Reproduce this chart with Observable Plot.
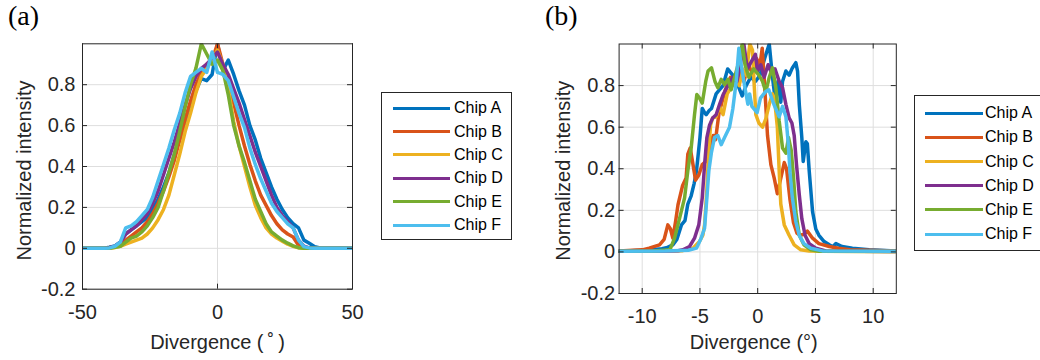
<!DOCTYPE html>
<html><head><meta charset="utf-8">
<script src="https://cdn.jsdelivr.net/npm/d3@7"></script>
<script src="https://cdn.jsdelivr.net/npm/@observablehq/plot@0.6"></script>
<style>
body{margin:0;background:#fff;}
#wrap{position:relative;width:1040px;height:360px;overflow:hidden;background:#fff;font-family:"Liberation Sans",Arial,Helvetica,sans-serif;}
.panel{position:absolute;top:0;}
.tag{position:absolute;top:0;font-family:"Liberation Serif","Times New Roman",serif;font-size:28px;line-height:32px;color:#000;}
.legend{position:absolute;border:1px solid #262626;background:#fff;box-sizing:border-box;}
.sw{position:absolute;height:3px;}
.lt{position:absolute;font-size:16px;line-height:18px;color:#000;white-space:nowrap;}
</style>
</head><body>
<div id="wrap"></div>
<script>
// ---------- shared ----------
const chips = ["Chip A","Chip B","Chip C","Chip D","Chip E","Chip F"];
const chipColors = ["#0072BD","#D95319","#EDB120","#7E2F8E","#77AC30","#4DBEEE"];

// ---------- panel (a) ----------
const aX = [-50,-46,-42,-40,-38,-36,-34,-32,-30,-28,-26,-24,-22,-20,-18,-16,-14,-12,-10,-8,-6,-4,-2,0,2,4,6,8,10,12,14,16,18,20,22,24,26,28,30,32,34,36,38,40,44,50];
const aChipA = [0,0,0,0.005,0.012,0.03,0.07,0.09,0.11,0.13,0.15,0.19,0.24,0.3,0.37,0.46,0.53,0.62,0.69,0.77,0.83,0.82,0.85,1.0,0.87,0.92,0.85,0.77,0.7,0.6,0.53,0.44,0.37,0.3,0.24,0.19,0.15,0.12,0.1,0.04,0.025,0.008,0.002,0,0,0];
const aChipB = [0,0,0,0.003,0.008,0.015,0.04,0.06,0.08,0.1,0.13,0.17,0.22,0.28,0.35,0.43,0.53,0.63,0.72,0.8,0.86,0.9,0.92,1.0,0.9,0.82,0.71,0.6,0.5,0.41,0.33,0.26,0.21,0.16,0.12,0.09,0.07,0.055,0.015,0.004,0,0,0,0,0,0];
const aChipC = [0,0,0,0,0.004,0.01,0.02,0.03,0.04,0.05,0.07,0.1,0.14,0.19,0.26,0.36,0.46,0.57,0.66,0.76,0.84,0.88,0.92,0.97,0.9,0.78,0.62,0.5,0.4,0.3,0.21,0.15,0.1,0.07,0.05,0.035,0.02,0.01,0.003,0,0,0,0,0,0,0];
const aChipD = [0,0,0,0.004,0.01,0.03,0.07,0.09,0.11,0.14,0.17,0.22,0.28,0.36,0.44,0.52,0.61,0.7,0.78,0.84,0.88,0.9,0.93,0.96,0.9,0.85,0.78,0.71,0.63,0.55,0.47,0.4,0.33,0.26,0.2,0.16,0.13,0.1,0.04,0.01,0.002,0,0,0,0,0];
const aChipE = [0,0,0,0,0.005,0.01,0.03,0.05,0.06,0.08,0.11,0.15,0.2,0.28,0.37,0.46,0.57,0.69,0.8,0.88,1.0,0.95,0.9,0.92,0.87,0.75,0.6,0.5,0.42,0.33,0.24,0.18,0.12,0.08,0.06,0.04,0.025,0.012,0.003,0,0,0,0,0,0,0];
const aChipF = [0,0,0,0.002,0.01,0.03,0.1,0.11,0.13,0.16,0.19,0.25,0.33,0.41,0.49,0.58,0.66,0.76,0.84,0.86,0.88,0.86,0.96,0.86,0.85,0.82,0.74,0.66,0.59,0.49,0.41,0.34,0.28,0.22,0.18,0.15,0.12,0.1,0.04,0.008,0.002,0,0,0,0,0];
const aXTicks = [-50,0,50];
const aYTicks = [-0.2,0,0.2,0.4,0.6,0.8];
const aXLabel = "Divergence (\u2009˚\u2009)";
const yLabel = "Normalized intensity";

// ---------- panel (b) ----------
const bChipA = [[-12,.003],[-10,.008],[-9,.012],[-8.3,.015],[-7.9,.02],[-7.35,.034],[-7,.06],[-6.6,.13],[-6.3,.15],[-6.05,.23],[-5.76,.27],[-5.5,.33],[-5.3,.39],[-5,.55],[-4.8,.69],[-4.6,.67],[-4.46,.66],[-4.2,.68],[-4,.69],[-3.6,.76],[-3.3,.78],[-3,.8],[-2.6,.88],[-2.3,.86],[-2,.84],[-1.7,.8],[-1.34,.75],[-1,.8],[-0.6,.84],[-0.2,.82],[0.2,.85],[0.6,.93],[1,1],[1.28,.84],[1.5,.74],[1.75,.82],[2,.72],[2.15,.82],[2.44,.87],[2.72,.85],[3,.885],[3.3,.91],[3.45,.87],[3.6,.71],[3.82,.55],[3.94,.435],[4.17,.53],[4.3,.52],[4.46,.39],[4.75,.194],[5.03,.11],[5.3,.08],[5.75,.05],[6.2,.034],[6.5,.025],[6.77,.04],[7.3,.026],[8.2,.018],[9.65,.01],[12,.004]];
const bChipB = [[-12,.005],[-10,.01],[-9.4,.018],[-8.5,.034],[-8.1,.06],[-7.78,.13],[-7.55,.11],[-7.35,.066],[-7.1,.15],[-6.9,.227],[-6.5,.32],[-6.2,.355],[-6.05,.47],[-5.84,.5],[-5.6,.42],[-5.38,.345],[-5.1,.37],[-4.8,.42],[-4.4,.44],[-4.09,.52],[-3.85,.56],[-3.65,.54],[-3.37,.66],[-3.1,.72],[-2.8,.78],[-2.35,.84],[-2,.8],[-1.6,.86],[-1.2,.82],[-0.8,.9],[-0.4,.85],[-0.1,.93],[0.2,.9],[0.39,.98],[0.6,.8],[0.85,.56],[1.14,.42],[1.43,.355],[1.7,.28],[2,.355],[2.3,.43],[2.5,.4],[2.8,.25],[3.1,.14],[3.4,.09],[3.7,.08],[4,.085],[4.3,.1],[4.75,.066],[5.3,.04],[6.2,.026],[7,.018],[8,.01],[12,.004]];
const bChipC = [[-12,.003],[-8,.004],[-6.5,.006],[-5.6,.018],[-5.04,.05],[-4.75,.08],[-4.6,.13],[-4.4,.3],[-4.23,.5],[-4.08,.61],[-3.9,.644],[-3.6,.65],[-3.3,.7],[-3,.66],[-2.64,.76],[-2.2,.8],[-1.9,.84],[-1.6,.8],[-1.3,.88],[-1,.85],[-0.68,1],[-0.45,.97],[-0.3,.8],[-0.16,.66],[0.1,.62],[0.42,.6],[0.7,.64],[1,.71],[1.28,.76],[1.45,.74],[1.7,.6],[1.86,.39],[2,.23],[2.3,.13],[2.72,.08],[3.16,.034],[3.73,.01],[4.46,.004],[6,.003],[12,.002]];
const bChipD = [[-12,.003],[-8,.004],[-6.9,.006],[-6.48,.01],[-5.9,.026],[-5.47,.066],[-5.1,.13],[-4.8,.26],[-4.6,.42],[-4.4,.55],[-4.17,.61],[-3.9,.644],[-3.6,.66],[-3.3,.71],[-3,.756],[-2.58,.8],[-2.15,.84],[-1.8,.82],[-1.5,.9],[-1.2,1],[-0.9,.88],[-0.6,.91],[-0.2,.95],[0,.87],[0.27,.9],[0.56,.84],[0.9,.9],[1.2,.86],[1.5,.88],[1.86,.82],[2.15,.79],[2.44,.71],[2.72,.645],[2.96,.62],[3.16,.56],[3.36,.42],[3.6,.275],[3.82,.16],[4.1,.08],[4.46,.04],[5.03,.018],[5.9,.005],[12,.002]];
const bChipE = [[-12,.003],[-9,.004],[-7.6,.01],[-7.2,.066],[-6.77,.16],[-6.33,.26],[-6.05,.39],[-5.76,.5],[-5.47,.66],[-5.27,.757],[-5.04,.74],[-4.8,.716],[-4.5,.82],[-4.3,.87],[-4,.885],[-3.7,.82],[-3.45,.79],[-3.16,.83],[-2.87,.805],[-2.58,.83],[-2.3,.78],[-2,.84],[-1.7,.9],[-1.34,1],[-1.1,.9],[-0.77,.84],[-0.34,.88],[0.1,.85],[0.42,.82],[0.7,.77],[1,.84],[1.28,.885],[1.57,.79],[1.86,.63],[2.15,.5],[2.44,.475],[2.67,.55],[2.9,.49],[3.1,.36],[3.3,.194],[3.6,.08],[4,.034],[4.6,.01],[5.3,.003],[12,.002]];
const bChipF = [[-12,.003],[-8,.004],[-6,.008],[-5.3,.018],[-4.9,.066],[-4.6,.114],[-4.4,.26],[-4.23,.39],[-4,.48],[-3.74,.55],[-3.45,.56],[-3.16,.516],[-2.87,.55],[-2.44,.6],[-2.15,.69],[-1.86,.82],[-1.63,.98],[-1.43,.9],[-1.14,.8],[-0.85,.71],[-0.7,.76],[-0.5,.7],[-0.05,.67],[0.24,.74],[0.67,.77],[0.96,.78],[1.4,.71],[1.86,.65],[2.15,.7],[2.44,.65],[2.65,.52],[2.8,.38],[3,.26],[3.3,.146],[3.6,.08],[4,.04],[4.6,.018],[5.6,.005],[12,.003]];
const bXTicks = [-10,-5,0,5,10];
const bYTicks = [-0.2,0,0.2,0.4,0.6,0.8];
const bXLabel = "Divergence (°)";

// ---------- tidy tables ----------
const aSeries = [aChipA,aChipB,aChipC,aChipD,aChipE,aChipF];
const dataA = aSeries.flatMap((vals, i) => vals.map((v, j) => ({chip: chips[i], x: aX[j], v})));
const bSeries = [bChipA,bChipB,bChipC,bChipD,bChipE,bChipF];
const dataB = bSeries.flatMap((pts, i) => pts.map(([x, v]) => ({chip: chips[i], x, v})));

const FONT = '"Liberation Sans", Arial, Helvetica, sans-serif';
const AX = "#262626", GRID = "#dedede";

function panel({data, xDomain, xTicks, yTicks, xGrid, xLabel, W, H, mL, mR, mT, mB, tickPadX, tickPadY, yLabelDx, yLabelDy, xLabelDx, xLabelDy}) {
  const fw = W - mL - mR, fh = H - mT - mB, tl = 5;
  return Plot.plot({
    width: W, height: H, marginLeft: mL, marginRight: mR, marginTop: mT, marginBottom: mB,
    x: {domain: xDomain}, y: {domain: [-0.2, 1]},
    color: {domain: chips, range: chipColors},
    style: {fontFamily: FONT, fontSize: "20px", color: AX, background: "transparent", overflow: "visible"},
    marks: [
      Plot.ruleY(yTicks, {stroke: GRID, strokeWidth: 1}),
      Plot.ruleX(xGrid, {stroke: GRID, strokeWidth: 1}),
      Plot.line(data, {x: "x", y: "v", z: "chip", stroke: "chip", strokeWidth: 3.5, strokeLinejoin: "round", strokeLinecap: "round", clip: true}),
      Plot.frame({stroke: AX, strokeWidth: 1}),
      Plot.ruleX(xTicks, {stroke: AX, insetTop: fh - tl}),
      Plot.ruleX(xTicks, {stroke: AX, insetBottom: fh - tl}),
      Plot.ruleY(yTicks, {stroke: AX, insetRight: fw - tl}),
      Plot.ruleY(yTicks, {stroke: AX, insetLeft: fw - tl}),
      Plot.axisX(xTicks, {tickSize: 0, tickPadding: tickPadX, fontSize: 20, label: null, tickFormat: d => String(d), fill: AX}),
      Plot.axisY(yTicks, {tickSize: 0, tickPadding: tickPadY, fontSize: 20, label: null, tickFormat: d => String(d), fill: AX}),
      Plot.text([yLabel], {text: d => d, frameAnchor: "left", rotate: -90, dx: yLabelDx, dy: yLabelDy, fontSize: 20, textAnchor: "middle", lineAnchor: "middle", fill: AX}),
      Plot.text([xLabel], {text: d => d, frameAnchor: "bottom", dx: xLabelDx, dy: xLabelDy, fontSize: 20, textAnchor: "middle", lineAnchor: "middle", fill: AX})
    ]
  });
}

const wrap = document.getElementById("wrap");

const pa = panel({data: dataA, xDomain: [-50, 50], xTicks: aXTicks, yTicks: aYTicks, xGrid: [0], xLabel: aXLabel,
  W: 360, H: 360, mL: 82, mR: 8, mT: 43.3, mB: 71.3, tickPadX: 16, tickPadY: 7, yLabelDx: -58, yLabelDy: 4, xLabelDx: 0, xLabelDy: 53});
pa.classList.add("panel"); pa.style.left = "0px";
wrap.appendChild(pa);

const pb = panel({data: dataB, xDomain: [-12, 12], xTicks: bXTicks, yTicks: bYTicks, xGrid: bXTicks, xLabel: bXLabel,
  W: 370, H: 360, mL: 78.6, mR: 14.2, mT: 43.5, mB: 67, tickPadX: 15, tickPadY: 4, yLabelDx: -55.6, yLabelDy: 2, xLabelDx: -4, xLabelDy: 49});
pb.classList.add("panel"); pb.style.left = "540px";
wrap.appendChild(pb);

function legend({left, top, width, height, rowTop, rowStep, swLeft, swWidth, textLeft}) {
  const box = document.createElement("div");
  box.className = "legend";
  Object.assign(box.style, {left: left + "px", top: top + "px", width: width + "px", height: height + "px"});
  chips.forEach((name, i) => {
    const cy = rowTop + rowStep * i;
    const sw = document.createElement("div");
    sw.className = "sw";
    Object.assign(sw.style, {left: swLeft + "px", top: (cy - 1.5) + "px", width: swWidth + "px", background: chipColors[i]});
    const t = document.createElement("div");
    t.className = "lt";
    t.textContent = name;
    Object.assign(t.style, {left: textLeft + "px", top: (cy - 9) + "px"});
    box.appendChild(sw); box.appendChild(t);
  });
  wrap.appendChild(box);
}
legend({left: 380.7, top: 92.3, width: 131, height: 148, rowTop: 15, rowStep: 23.35, swLeft: 11, swWidth: 57, textLeft: 72.3});
legend({left: 914, top: 95, width: 140, height: 156, rowTop: 17.3, rowStep: 24.15, swLeft: 10, swWidth: 58, textLeft: 70});

[["(a)", 8], ["(b)", 545]].forEach(([s, x]) => {
  const d = document.createElement("div");
  d.className = "tag"; d.textContent = s; d.style.left = x + "px";
  wrap.appendChild(d);
});
</script>
</body></html>
